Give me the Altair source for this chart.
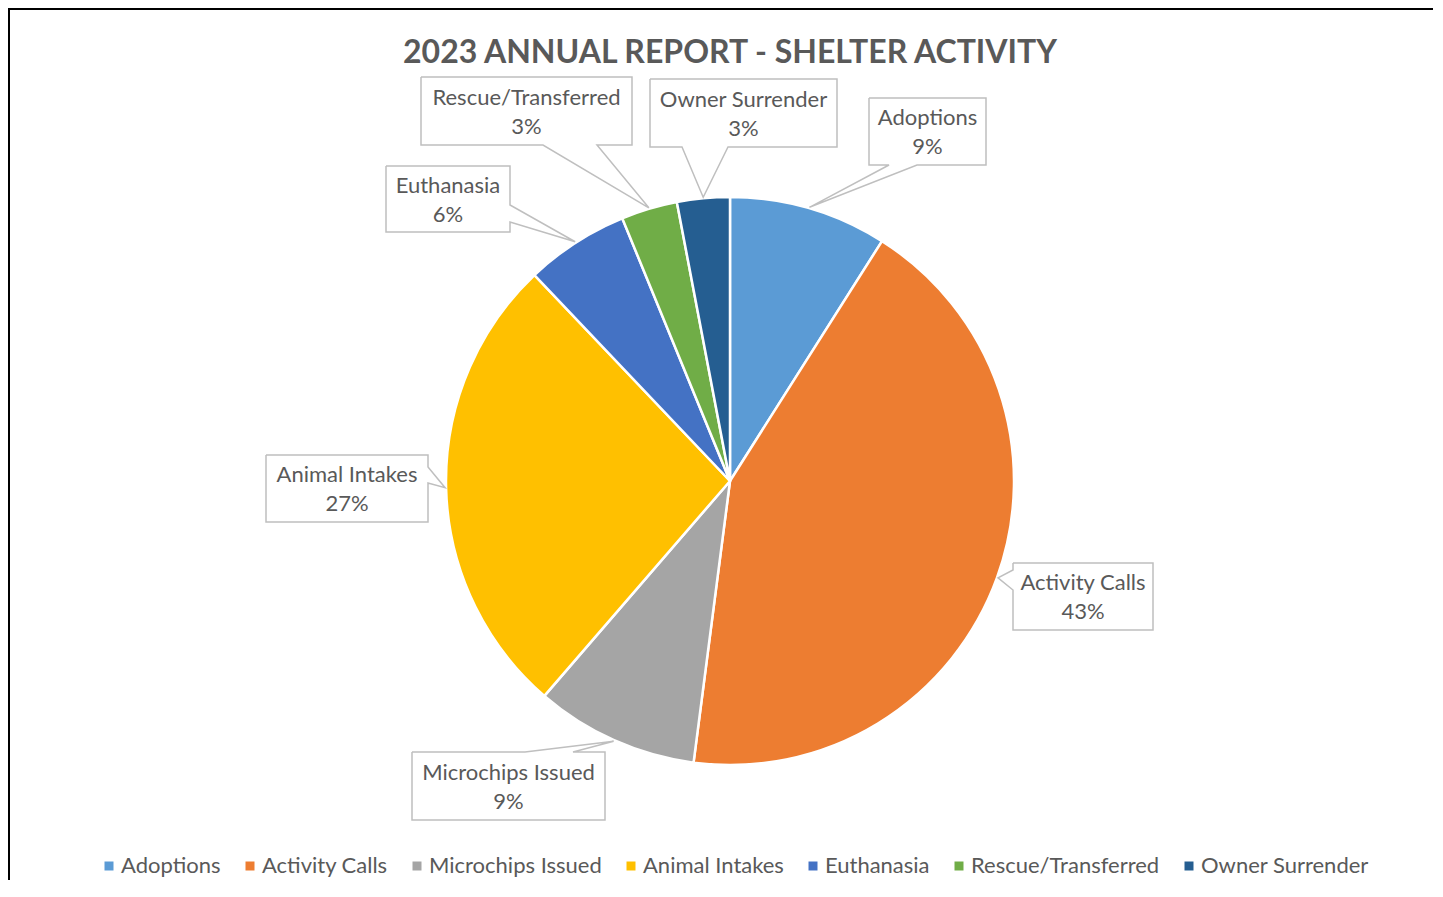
import math
import altair as alt
import pandas as pd

# ---------------- data ----------------
categories = ["Adoptions", "Activity Calls", "Microchips Issued", "Animal Intakes",
              "Euthanasia", "Rescue/Transferred", "Owner Surrender"]
values = [9.0, 43.1, 9.3, 26.6, 5.9, 3.2, 3.0]
colors = ["#5B9BD5", "#ED7D31", "#A5A5A5", "#FFC000", "#4472C4", "#70AD47", "#255E91"]
TITLE = "2023 ANNUAL REPORT - SHELTER ACTIVITY"

# ---------------- layout ----------------
W, H = 1425, 872
CX, CY, R = 722, 473, 284
FONT = "Lato"
TEXT_COLOR = "#595959"
BOX_COLOR = "#BFBFBF"

# callout boxes: (x0, y0, x1, y1), side of wedge, wedge base (a, b)
callout_layout = {
    "Adoptions": ((861, 90, 978, 157), "bottom", (881, 909)),
    "Activity Calls": ((1005, 555, 1145, 622), "left", (562, 582)),
    "Microchips Issued": ((404, 744, 597, 812), "top", (517, 565)),
    "Animal Intakes": ((258, 447, 420, 514), "right", (459, 475)),
    "Euthanasia": ((378, 158, 502, 224), "right", (197, 214)),
    "Rescue/Transferred": ((413, 69, 624, 137), "bottom", (535, 589)),
    "Owner Surrender": ((642, 71, 829, 139), "bottom", (674, 720)),
}

total = sum(values)
df = pd.DataFrame({"category": categories, "value": values, "idx": range(len(categories))})

# callout outlines, tips at slice mid-angles on the pie edge
pts, names, cum = [], [], 0.0
for cat, v in zip(categories, values):
    mid = (cum + v / 2) / total * 2 * math.pi
    cum += v
    tx, ty = CX + (R + 1) * math.sin(mid), CY - (R + 1) * math.cos(mid)
    (x0, y0, x1, y1), side, (a, b) = callout_layout[cat]
    seq = [(x0, y0)]
    if side == "top":
        seq += [(a, y0), (tx, ty), (b, y0)]
    seq += [(x1, y0)]
    if side == "right":
        seq += [(x1, a), (tx, ty), (x1, b)]
    seq += [(x1, y1)]
    if side == "bottom":
        seq += [(b, y1), (tx, ty), (a, y1)]
    seq += [(x0, y1)]
    if side == "left":
        seq += [(x0, b), (tx, ty), (x0, a)]
    seq += [(x0, y0)]
    for i, (px, py) in enumerate(seq):
        pts.append({"label": cat, "o": i, "x": px, "y": py})
    bcx, bcy = (x0 + x1) / 2, (y0 + y1) / 2
    names.append({"label": cat, "x": bcx, "y": bcy - 13.5,
                  "pct": f"{round(v / total * 100):d}%", "y2": bcy + 15.5})

pts_df = pd.DataFrame(pts)
names_df = pd.DataFrame(names)

xs = alt.Scale(domain=[0, W], nice=False, zero=False)
ys = alt.Scale(domain=[H, 0], nice=False, zero=False)

pie = alt.Chart(df).mark_arc(radius=R, stroke="white", strokeWidth=2.5).encode(
    theta=alt.Theta("value:Q", stack=True),
    order=alt.Order("idx:Q"),
    color=alt.Color("category:N", scale=alt.Scale(domain=categories, range=colors),
                    legend=alt.Legend(orient="none", legendX=90, legendY=847,
                                      direction="horizontal", title=None,
                                      symbolType="square", symbolSize=81,
                                      symbolStrokeWidth=0, labelFont=FONT,
                                      labelFontSize=22, labelColor=TEXT_COLOR,
                                      labelLimit=0, labelOffset=1, columnPadding=18)),
    x=alt.value(CX), y=alt.value(CY),
)

callouts = alt.Chart(pts_df).mark_line(color=BOX_COLOR, strokeWidth=1.5, fill="white").encode(
    x=alt.X("x:Q", scale=xs, axis=None),
    y=alt.Y("y:Q", scale=ys, axis=None),
    detail="label:N",
    order="o:Q",
)

name_text = alt.Chart(names_df).mark_text(font=FONT, fontSize=22, color=TEXT_COLOR,
                                          baseline="middle", align="center").encode(
    x=alt.X("x:Q", scale=xs, axis=None), y=alt.Y("y:Q", scale=ys, axis=None), text="label:N")

pct_text = alt.Chart(names_df).mark_text(font=FONT, fontSize=22, color=TEXT_COLOR,
                                         baseline="middle", align="center").encode(
    x=alt.X("x:Q", scale=xs, axis=None), y=alt.Y("y2:Q", scale=ys, axis=None), text="pct:N")

title = alt.Chart(pd.DataFrame({"t": [TITLE]})).mark_text(
    font=FONT, fontSize=32, fontWeight="bold", color=TEXT_COLOR, baseline="middle", align="center"
).encode(x=alt.value(CX), y=alt.value(45), text="t:N")

frame_left = alt.Chart(df).mark_rule(color="black", strokeWidth=2).encode(
    x=alt.value(1), y=alt.value(0), y2=alt.value(H + 10))
frame_top = alt.Chart(df).mark_rule(color="black", strokeWidth=2).encode(
    x=alt.value(0), x2=alt.value(W + 10), y=alt.value(1))

chart = alt.layer(frame_left, frame_top, pie, callouts, name_text, pct_text, title).properties(
    width=W, height=H, padding=0, autosize="none"
).configure_view(stroke=None)

chart.save("out.html", embed_options={"renderer": "svg", "actions": False})
